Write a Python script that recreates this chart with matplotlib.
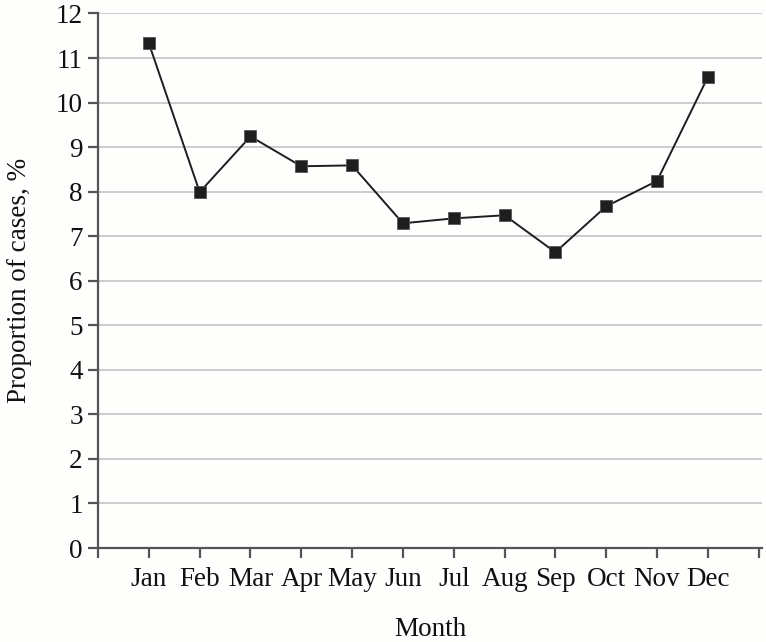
import matplotlib
matplotlib.use('Agg')
import matplotlib.pyplot as plt

months = ['Jan', 'Feb', 'Mar', 'Apr', 'May', 'Jun', 'Jul', 'Aug', 'Sep', 'Oct', 'Nov', 'Dec']
proportion = [11.33, 7.99, 9.24, 8.57, 8.59, 7.29, 7.40, 7.47, 6.64, 7.67, 8.24, 10.57]

plt.rcParams['font.family'] = ['Liberation Serif', 'DejaVu Serif']

fig = plt.figure(figsize=(7.66, 6.42), dpi=100)
fig.patch.set_facecolor('#fefefc')
ax = fig.add_axes([0.128, 0.1464, 0.867, 0.8326])
ax.set_facecolor('#fefefc')

x = list(range(1, len(months) + 1))
ax.plot(x, proportion, color='#1e1e1e', lw=1.4, marker='s', markersize=8,
        markerfacecolor='#1e1e1e', markeredgecolor='#555555', markeredgewidth=0.6, zorder=3)

ax.set_ylim(0, 12)
ax.set_xlim(0, 13.07)
ax.set_yticks(range(0, 13))
ax.set_xticks(range(0, 14))
ax.set_xticklabels([''] + months + [''])
ax.yaxis.grid(True, color='#c4c4c4', lw=1.2)
ax.set_axisbelow(True)

for s in ['top', 'right']:
    ax.spines[s].set_visible(False)
for s in ['left', 'bottom']:
    ax.spines[s].set_color('#555555')
    ax.spines[s].set_linewidth(1.6)

ax.tick_params(axis='both', colors='#555555', width=1.6, length=7, labelsize=19.5, labelcolor='#111111')
ax.tick_params(axis='x', pad=7)
ax.tick_params(axis='y', pad=4)

ax.set_xlabel('Month', fontsize=19.5, color='#111111', labelpad=18)
ax.set_ylabel('Proportion of cases, %', fontsize=19.5, color='#111111', labelpad=17)

fig.savefig('out.png', dpi=100, facecolor=fig.get_facecolor())
